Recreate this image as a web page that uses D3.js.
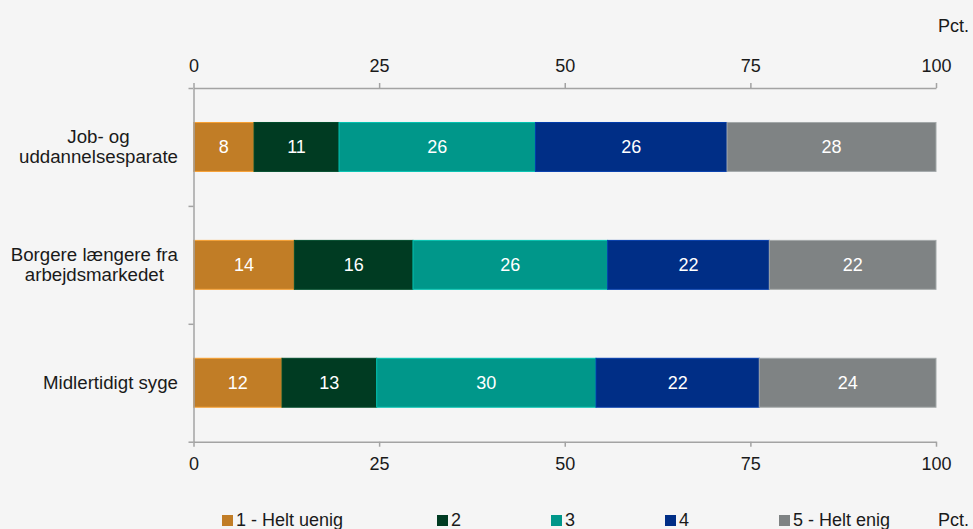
<!DOCTYPE html>
<html>
<head>
<meta charset="utf-8">
<script src="https://cdn.jsdelivr.net/npm/d3@7"></script>
<style>
  html, body { margin: 0; padding: 0; background: #f5f5f5; }
  svg { display: block; font-family: "Liberation Sans", Arial, sans-serif; }
</style>
</head>
<body>
<svg id="chart" width="973" height="529"></svg>
<script>
// Categories (one bar each), top to bottom; "\n" splits a label over two lines
const categories = [
  "Job- og\nuddannelsesparate",
  "Borgere længere fra\narbejdsmarkedet",
  "Midlertidigt syge"
];

// Answer options on the 1-5 scale
const seriesNames = ["1 - Helt uenig", "2", "3", "4", "5 - Helt enig"];
const seriesColors = ["#c17d26", "#003b22", "#00978a", "#002e86", "#7f8384"];

// Share of answers per option, pct., one array per category
const jobUddannelse = [8.15, 11.45, 26.45, 25.81, 28.14];
const borgereLaengere = [13.58, 15.98, 26.22, 21.77, 22.45];
const midlertidigtSyge = [11.92, 12.75, 29.54, 21.99, 23.80];

// Axis ticks
const xTicks = [0, 25, 50, 75, 100];
const unitLabel = "Pct.";

const values = [jobUddannelse, borgereLaengere, midlertidigtSyge];

const svg = d3.select("#chart");
const plot = { left: 193.5, right: 936, top: 88, bottom: 441.7 };
const fontSize = 18;
const catFontSize = 18.7;
const axisColor = "#a3a3a3";

const x = d3.scaleLinear().domain([0, 100]).range([plot.left, plot.right]);
const y = d3.scaleBand().domain(categories)
  .range([plot.top, plot.bottom])
  .paddingInner(0.585).paddingOuter(0.2925);
// Boundaries between category bands, used for the category axis ticks
const yEdge = d3.scaleLinear().domain([0, categories.length]).range([plot.top, plot.bottom]);

// Rows for the stack
const rows = categories.map((c, i) => {
  const r = { category: c };
  seriesNames.forEach((s, j) => { r[s] = values[i][j]; });
  return r;
});
const stacked = d3.stack().keys(seriesNames)(rows);

// Stacked bars
const layers = svg.append("g").selectAll("g")
  .data(stacked).join("g")
  .attr("fill", (d, i) => seriesColors[i])
  .attr("stroke", (d, i) => d3.color(seriesColors[i]).brighter(0.7))
  .attr("stroke-width", 1);

layers.selectAll("rect")
  .data(d => d)
  .join("rect")
  .attr("x", d => x(d[0]))
  .attr("y", d => y(d.data.category))
  .attr("width", d => x(d[1]) - x(d[0]))
  .attr("height", y.bandwidth());

// Value labels inside the segments
layers.selectAll("text")
  .data(d => d)
  .join("text")
  .attr("x", d => (x(d[0]) + x(d[1])) / 2)
  .attr("y", d => y(d.data.category) + y.bandwidth() / 2)
  .attr("dy", "0.35em")
  .attr("text-anchor", "middle")
  .attr("fill", "#ffffff")
  .attr("stroke", "none")
  .attr("font-size", fontSize)
  .text(d => d3.format(".0f")(d[1] - d[0]));

// Value axes, top and bottom
function styleAxis(g) {
  g.selectAll(".domain").attr("stroke", axisColor).attr("stroke-width", 1.5);
  g.selectAll(".tick line").attr("stroke", axisColor).attr("stroke-width", 1.5);
  g.selectAll(".tick text").attr("fill", "#1a1a1a").attr("font-size", fontSize)
    .attr("font-family", "Liberation Sans, Arial, sans-serif");
}

svg.append("g")
  .attr("transform", `translate(0,${plot.top})`)
  .call(d3.axisTop(x).tickValues(xTicks).tickSize(5).tickSizeOuter(0).tickPadding(11))
  .call(styleAxis);

svg.append("g")
  .attr("transform", `translate(0,${plot.bottom})`)
  .call(d3.axisBottom(x).tickValues(xTicks).tickSize(5).tickSizeOuter(0).tickPadding(10.5))
  .call(styleAxis);

// Category axis with ticks at the band boundaries
svg.append("g")
  .attr("transform", `translate(${plot.left},0)`)
  .call(d3.axisLeft(yEdge).tickValues(d3.range(categories.length + 1)).tickFormat("").tickSize(5).tickSizeOuter(0))
  .call(styleAxis);

// Category labels: lines centred in a block that is right-aligned at the axis
const catG = svg.append("g");
const labelRight = 178;
categories.forEach(c => {
  const lines = c.split("\n");
  const cy = y(c) + y.bandwidth() / 2;
  const t = catG.append("text")
    .attr("font-size", catFontSize)
    .attr("fill", "#1a1a1a")
    .attr("text-anchor", "middle");
  const spans = lines.map((l, i) => t.append("tspan")
    .attr("y", cy + (i - (lines.length - 1) / 2) * 20)
    .attr("dy", "0.35em")
    .text(l));
  const widths = spans.map(s => s.node().getComputedTextLength());
  const blockW = d3.max(widths);
  spans.forEach(s => s.attr("x", labelRight - blockW / 2));
});

// Unit labels
svg.append("text").attr("x", 938).attr("y", 32)
  .attr("font-size", fontSize).attr("fill", "#1a1a1a").text(unitLabel);
svg.append("text").attr("x", 938).attr("y", 526)
  .attr("font-size", fontSize).attr("fill", "#1a1a1a").text(unitLabel);

// Legend
const legendX = [222, 437, 551, 665, 779];
const legend = svg.append("g").selectAll("g")
  .data(seriesNames).join("g")
  .attr("transform", (d, i) => `translate(${legendX[i]},515)`);
legend.append("rect")
  .attr("width", 11).attr("height", 11)
  .attr("fill", (d, i) => seriesColors[i]);
legend.append("text")
  .attr("x", 14).attr("y", 11)
  .attr("font-size", fontSize).attr("fill", "#1a1a1a")
  .text(d => d);
</script>
</body>
</html>
